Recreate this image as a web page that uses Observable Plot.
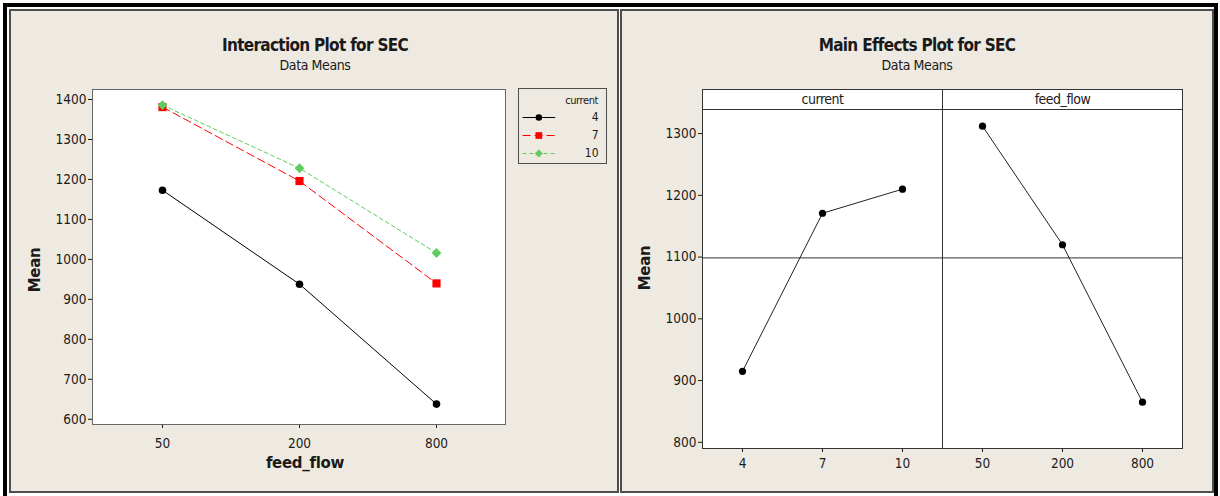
<!DOCTYPE html>
<html>
<head>
<meta charset="utf-8">
<script src="https://cdn.jsdelivr.net/npm/d3@7"></script>
<script src="https://cdn.jsdelivr.net/npm/@observablehq/plot@0.6"></script>
<style>
  html, body { margin: 0; padding: 0; background: #ffffff; overflow: hidden; }
  #root { position: relative; width: 1220px; height: 496px; overflow: hidden; background: #ffffff;
          font-family: "Liberation Sans Narrow", "DejaVu Sans Condensed", "Liberation Sans", sans-serif; color: #1a1a1a; }
  .abs { position: absolute; }
  .outer { left: 3px; top: 3px; width: 1207px; height: 500px; border: 4px solid #000; border-bottom: none; }
  .panel { background: #eeeae1; border: 2px solid #4d4d4d; box-sizing: border-box; }
  .title { font-weight: bold; font-size: 17px; letter-spacing: -0.7px; text-align: center; white-space: nowrap; transform: translateX(-50%); }
  .sub { font-size: 14px; letter-spacing: -0.4px; text-align: center; white-space: nowrap; transform: translateX(-50%); }
  .axlab { font-weight: bold; font-size: 15px; white-space: nowrap; transform: translate(-50%, -50%); font-family: "DejaVu Sans", sans-serif; letter-spacing: -0.3px; }
  .rot { transform: translate(-50%, -50%) rotate(-90deg); }
  .legend { background: #eeeae1; border: 1px solid #4d4d4d; box-sizing: border-box; }
  .strip { background: #fff; border: 1px solid #333; box-sizing: border-box; font-size: 14px; letter-spacing: -0.5px; display: flex; }
  .strip div { flex: 1; text-align: center; line-height: 18px; }
  .strip div + div { border-left: 1px solid #333; }
  svg { overflow: visible; }
</style>
</head>
<body>
<div id="root">
  <div class="abs outer"></div>
  <div class="abs panel" style="left:9px; top:9px; width:610px; height:484px;"></div>
  <div class="abs panel" style="left:620px; top:9px; width:594px; height:484px;"></div>

  <div class="abs title" style="left:315px; top:35px;">Interaction Plot for SEC</div>
  <div class="abs sub" style="left:315px; top:57px;">Data Means</div>
  <div class="abs title" style="left:917px; top:35px;">Main Effects Plot for SEC</div>
  <div class="abs sub" style="left:917px; top:57px;">Data Means</div>

  <div class="abs axlab" style="left:305px; top:463px;">feed_flow</div>
  <div class="abs axlab rot" style="left:35px; top:270px;">Mean</div>
  <div class="abs axlab rot" style="left:645px; top:268px;">Mean</div>

  <div id="left" class="abs" style="left:10px; top:80px;"></div>
  <div id="legend" class="abs legend" style="left:518px; top:88px; width:89px; height:76px;">
    <div class="abs" style="right:8px; top:5px; font-size:11px; letter-spacing:-0.4px;">current</div>
  </div>

  <div id="strip" class="abs strip" style="left:702px; top:89px; width:481px; height:21px;"></div>
  <div id="right1" class="abs" style="left:622px; top:100px;"></div>
  <div id="right2" class="abs" style="left:942px; top:100px;"></div>
</div>
<script>
// ---------------- data ----------------
const feedFlow = ["50", "200", "800"];
const currentLevels = ["4", "7", "10"];
const secCurrent4 = [1173, 938, 638];
const secCurrent7 = [1381, 1196, 940];
const secCurrent10 = [1386, 1228, 1016];
const leftYTicks = [600, 700, 800, 900, 1000, 1100, 1200, 1300, 1400];

const mainFactors = ["current", "feed_flow"];
const currentMeans = [915, 1171, 1210];
const feedFlowMeans = [1312, 1120, 865];
const rightYTicks = [800, 900, 1000, 1100, 1200, 1300];

const seriesColors = ["#000000", "#ff0000", "#5fcc5f"];
const seriesSymbols = ["circle", "square", "diamond2"];
const seriesDash = [null, "8,4", "4,3"];
const seriesR = [3.8, 4.6, 4.4];
const legendR = [3.3, 3.8, 3.6];

// ---------------- tables ----------------
const seriesValues = [secCurrent4, secCurrent7, secCurrent10];
const interaction = currentLevels.flatMap((c, s) =>
  feedFlow.map((f, i) => ({current: c, feed: f, mean: seriesValues[s][i]})));
const currentTable = currentLevels.map((c, i) => ({level: c, mean: currentMeans[i]}));
const feedTable = feedFlow.map((f, i) => ({level: f, mean: feedFlowMeans[i]}));
const grandMean = d3.mean(currentMeans);

const fontFamily = '"Liberation Sans Narrow", "DejaVu Sans Condensed", "Liberation Sans", sans-serif';
const baseStyle = {background: "transparent", fontFamily, fontSize: "13.5px", color: "#1a1a1a", overflow: "visible"};
const plain = d => String(d);

// ---------------- interaction plot ----------------
const leftMarks = [Plot.frame({fill: "white", stroke: "#666"})];
currentLevels.forEach((c, s) => {
  const d = interaction.filter(r => r.current === c);
  leftMarks.push(Plot.line(d, {x: "feed", y: "mean", stroke: seriesColors[s], strokeWidth: 1,
    strokeDasharray: seriesDash[s] ?? undefined}));
  leftMarks.push(Plot.dot(d, {x: "feed", y: "mean", symbol: () => seriesSymbols[s], fill: seriesColors[s],
    stroke: "none", r: seriesR[s]}));
});
const left = Plot.plot({
  width: 500, height: 400,
  marginLeft: 82, marginRight: 5, marginTop: 9, marginBottom: 56,
  style: baseStyle,
  x: {type: "point", domain: feedFlow, padding: 0.5, label: null, tickSize: 4, tickPadding: 10},
  y: {domain: [587, 1425], ticks: leftYTicks, tickFormat: plain, label: null, tickSize: 4, tickPadding: 2},
  symbol: {type: "identity"},
  marks: leftMarks
});
document.getElementById("left").appendChild(left);

// ---------------- legend ----------------
const legendRows = currentLevels.map((c, s) => ({current: c, s}));
const legendMarks = [];
legendRows.forEach(row => {
  legendMarks.push(Plot.link([row], {x1: () => 0, x2: () => 0.43, y1: "current", y2: "current",
    stroke: seriesColors[row.s], strokeWidth: 1.2, strokeDasharray: seriesDash[row.s] ?? undefined}));
  legendMarks.push(Plot.dot([row], {x: () => 0.215, y: "current", symbol: () => seriesSymbols[row.s],
    fill: seriesColors[row.s], stroke: "none", r: legendR[row.s]}));
});
legendMarks.push(Plot.text(legendRows, {x: () => 1, y: "current", text: "current", textAnchor: "end", fontSize: 12}));
const legend = Plot.plot({
  width: 87, height: 74,
  marginLeft: 3, marginRight: 8, marginTop: 28, marginBottom: 10,
  style: baseStyle,
  x: {domain: [0, 1], axis: null},
  y: {type: "point", domain: currentLevels, padding: 0, axis: null},
  symbol: {type: "identity"},
  marks: legendMarks
});
legend.style.position = "absolute"; legend.style.left = "0px"; legend.style.top = "0px";
document.getElementById("legend").appendChild(legend);

// ---------------- main effects ----------------
const strip = document.getElementById("strip");
mainFactors.forEach(f => { const d = document.createElement("div"); d.textContent = f; strip.appendChild(d); });

function mainEffect(table, domain, withY) {
  return Plot.plot({
    width: withY ? 320 : 241, height: 388,
    marginLeft: withY ? 80 : 0, marginRight: withY ? 0 : 1, marginTop: 9, marginBottom: 40,
    style: baseStyle,
    x: {type: "point", domain, padding: 0.5, label: null, tickSize: 4, tickPadding: 6},
    y: withY ? {domain: [790, 1339], ticks: rightYTicks, tickFormat: plain, label: null, tickSize: 4, tickPadding: 2}
             : {domain: [790, 1339], axis: null},
    marks: [
      Plot.frame({fill: "white", stroke: "#333"}),
      Plot.ruleY([grandMean], {stroke: "#333", strokeWidth: 1}),
      Plot.line(table, {x: "level", y: "mean", stroke: "#222", strokeWidth: 1}),
      Plot.dot(table, {x: "level", y: "mean", fill: "#000", stroke: "none", r: 3.6})
    ]
  });
}
document.getElementById("right1").appendChild(mainEffect(currentTable, currentLevels, true));
document.getElementById("right2").appendChild(mainEffect(feedTable, feedFlow, false));
</script>
</body>
</html>
